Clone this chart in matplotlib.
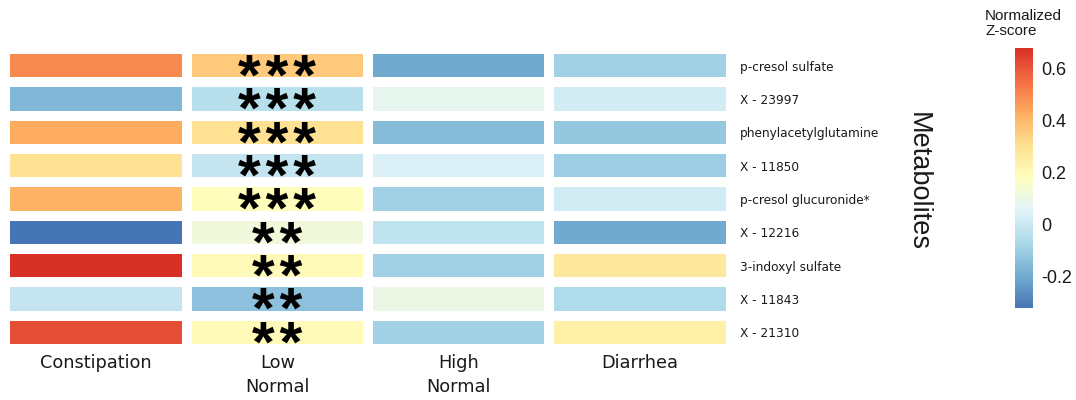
import numpy as np
import matplotlib
matplotlib.use("Agg")
import matplotlib.pyplot as plt
from matplotlib.colors import LinearSegmentedColormap, Normalize
from matplotlib.font_manager import FontProperties
from matplotlib.textpath import TextPath

# Metabolites (rows, top to bottom) and groups (columns)
metabolites = [
    "p-cresol sulfate",
    "X - 23997",
    "phenylacetylglutamine",
    "X - 11850",
    "p-cresol glucuronide*",
    "X - 12216",
    "3-indoxyl sulfate",
    "X - 11843",
    "X - 21310",
]
groups = ["Constipation", "Low\nNormal", "High\nNormal", "Diarrhea"]

# Normalized z-scores per group
constipation = [0.50, -0.16, 0.43, 0.30, 0.42, -0.32, 0.68, -0.01, 0.62]
low_normal = [0.36, -0.04, 0.30, -0.01, 0.19, 0.12, 0.20, -0.14, 0.20]
high_normal = [-0.20, 0.08, -0.15, 0.04, -0.09, -0.02, -0.09, 0.10, -0.09]
diarrhea = [-0.09, 0.02, -0.12, -0.10, 0.02, -0.20, 0.27, -0.06, 0.24]

# Significance marks for the Low Normal column
significance = ["***", "***", "***", "***", "***", "**", "**", "**", "**"]
star_column = 1

values = np.column_stack([constipation, low_normal, high_normal, diarrhea])

palette = ["#4575b4", "#74add1", "#abd9e9", "#e0f3f8", "#ffffbf",
           "#fee090", "#fdae61", "#f46d43", "#d73027"]
cmap = LinearSegmentedColormap.from_list("rdylbu9_r", palette)
norm = Normalize(vmin=values.min(), vmax=values.max())

W, H, DPI = 1076, 400, 100
fig = plt.figure(figsize=(W / DPI, H / DPI), dpi=DPI)

ax_box = [5.3 / W, 1 - 348.9 / H, 725.2 / W, 299.7 / H]
ax = fig.add_axes(ax_box)
n_rows, n_cols = values.shape
mesh = ax.pcolormesh(np.arange(n_cols + 1), np.arange(n_rows + 1), values,
                     cmap=cmap, norm=norm, edgecolors="white", linewidth=5.8)
ax.set_xlim(0, n_cols)
ax.set_ylim(n_rows, 0)
for s in ax.spines.values():
    s.set_visible(False)

ax.yaxis.tick_right()
ax.set_yticks(np.arange(n_rows) + 0.5)
ax.set_yticklabels(metabolites, fontsize=8.7, family="DejaVu Sans", color="#1a1a1a")
ax.tick_params(axis="y", length=0, pad=7)
ax.set_xticks(np.arange(n_cols) + 0.5)
ax.set_xticklabels(groups, fontsize=12.8, family="DejaVu Sans", color="#1a1a1a",
                   linespacing=1.4, va="top")
ax.tick_params(axis="x", length=0, pad=4)

# Significance stars: one stacked text block, line pitch equal to the row pitch
star_fp = FontProperties(family=["Liberation Sans", "DejaVu Sans"], weight="bold", size=42)
star_lines = ["\u200a".join(mark) for mark in significance]
renderer = fig.canvas.get_renderer()
lp_w, lp_h, lp_d = renderer.get_text_width_height_descent("lp", star_fp, ismath=False)
row_pitch_px = ax_box[3] * H / n_rows
spacing = (row_pitch_px - lp_d) / (lp_h - lp_d)
glyph = TextPath((0, 0), "*", prop=star_fp).get_extents()
glyph_mid_px = (glyph.y0 + glyph.y1) / 2 * DPI / 72
# baseline of the first line lies below the glyph centre;
# the top of the block is (lp_h - lp_d) above that baseline
row0_center_px = (1 - ax_box[1] - ax_box[3]) * H + row_pitch_px / 2
top_px = row0_center_px + glyph_mid_px - (lp_h - lp_d)
fig.text((ax_box[0] + ax_box[2] * (star_column + 0.5) / n_cols), 1 - top_px / H,
         "\n".join(star_lines), ha="center", va="top", multialignment="center",
         fontproperties=star_fp, linespacing=spacing, color="black")

fig.text(918 / W, 1 - 181 / H, "Metabolites", rotation=-90, ha="center", va="center",
         fontsize=19.5, family="Liberation Sans", color="#1a1a1a")

cax = fig.add_axes([1015 / W, 1 - 308 / H, 18 / W, 260 / H])
cb = fig.colorbar(mesh, cax=cax, ticks=[-0.2, 0, 0.2, 0.4, 0.6])
cb.outline.set_visible(False)
cb.ax.set_yticklabels(["-0.2", "0", "0.2", "0.4", "0.6"], fontsize=13,
                      family="Liberation Sans", color="#1a1a1a")
cb.ax.tick_params(length=0, pad=6)
fig.text(985 / W, 1 - 9 / H, "Normalized\nZ-score", ha="left", va="top",
         fontsize=11, family="Liberation Sans", color="#1a1a1a", linespacing=1.1)

fig.savefig("out.png", dpi=DPI, facecolor="white")
